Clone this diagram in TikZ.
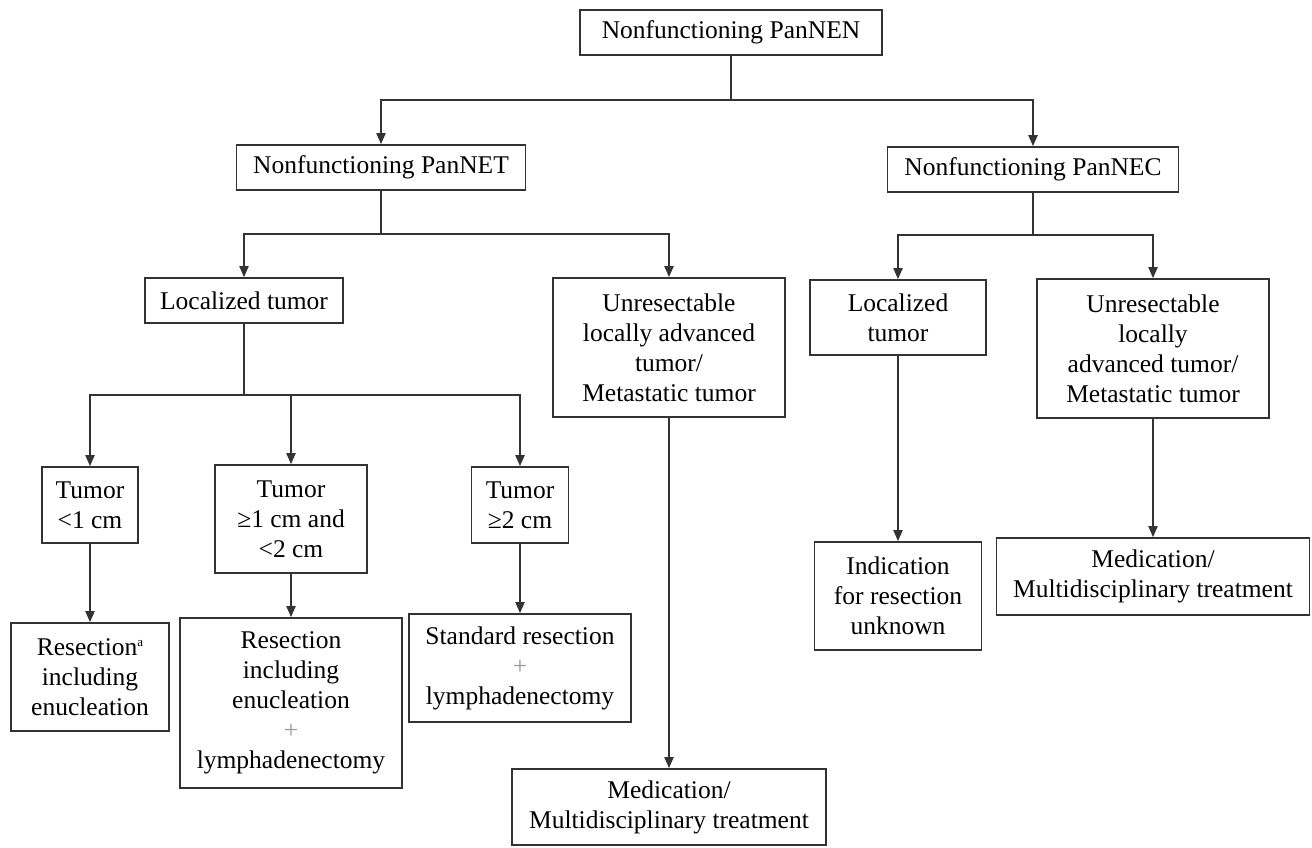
\documentclass[tikz,border=0pt]{standalone}
\usepackage{fontspec}
\setmainfont{Liberation Serif}
\usetikzlibrary{arrows.meta}

\begin{document}
\begin{tikzpicture}[x=1pt, y=-1pt, >={Stealth[length=11pt,width=9pt,inset=0pt]},
  box/.style={draw=black!80, line width=1.6pt, fill=white, align=center, inner sep=0pt,
    font=\fontsize{25.5}{30}\selectfont},
  link/.style={draw=black!80, line width=1.8pt}]
  \useasboundingbox (0,0) rectangle (1312,847);
  % top levels
  \node[box, minimum width=302pt, minimum height=45pt] (nen) at (731,32.5) {Nonfunctioning PanNEN};
  \node[box, minimum width=289pt, minimum height=45pt] (net) at (381,167.5) {Nonfunctioning PanNET};
  \node[box, minimum width=291pt, minimum height=45pt] (nec) at (1033,169.5) {Nonfunctioning PanNEC};
  % PanNET branch
  \node[box, minimum width=198pt, minimum height=45pt] (locL) at (244,300.5) {Localized tumor};
  \node[box, minimum width=232pt, minimum height=139pt] (unrL) at (669,347.5)
    {Unresectable\\locally advanced\\tumor/\\Metastatic tumor};
  \node[box, minimum width=96pt, minimum height=76pt] (t1) at (90,505) {Tumor\\<1 cm};
  \node[box, minimum width=152pt, minimum height=108pt] (t2) at (291,519) {Tumor\\≥1 cm and\\<2 cm};
  \node[box, minimum width=97pt, minimum height=76pt] (t3) at (520,505) {Tumor\\≥2 cm};
  \node[box, minimum width=158pt, minimum height=108pt] (r1) at (90,677)
    {Resection\raisebox{0.35em}{\fontsize{13}{13}\selectfont a}\\including\\enucleation};
  \node[box, minimum width=222pt, minimum height=170pt] (r2) at (291,703)
    {Resection\\including\\enucleation\\{\color{black!40}+}\\lymphadenectomy};
  \node[box, minimum width=222pt, minimum height=108pt] (r3) at (520,668)
    {Standard resection\\{\color{black!40}+}\\lymphadenectomy};
  \node[box, minimum width=314pt, minimum height=76pt] (medL) at (669,807)
    {Medication/\\Multidisciplinary treatment};
  % PanNEC branch
  \node[box, minimum width=176pt, minimum height=75pt] (locR) at (898,317.5) {Localized\\tumor};
  \node[box, minimum width=232pt, minimum height=139pt] (unrR) at (1153,348.5)
    {Unresectable\\locally\\advanced tumor/\\Metastatic tumor};
  \node[box, minimum width=167pt, minimum height=108pt] (ind) at (898,596)
    {Indication\\for resection\\unknown};
  \node[box, minimum width=313pt, minimum height=77pt] (medR) at (1153,576.5)
    {Medication/\\Multidisciplinary treatment};
  % junctions
  \coordinate (j0) at (731,100);
  \coordinate (j1) at (381,234);
  \coordinate (j2) at (1033,235);
  \coordinate (j3) at (244,395);
  % connectors
  \draw[link] (nen) -- (j0);
  \draw[link,->] (j0) -| (net);
  \draw[link,->] (j0) -| (nec);
  \draw[link] (net) -- (j1);
  \draw[link,->] (j1) -| (locL);
  \draw[link,->] (j1) -| (unrL);
  \draw[link] (nec) -- (j2);
  \draw[link,->] (j2) -| (locR);
  \draw[link,->] (j2) -| (unrR);
  \draw[link] (locL) -- (j3);
  \draw[link,->] (j3) -| (t1);
  \draw[link,->] (j3) -| (t2);
  \draw[link,->] (j3) -| (t3);
  \draw[link,->] (t1) -- (r1);
  \draw[link,->] (t2) -- (r2);
  \draw[link,->] (t3) -- (r3);
  \draw[link,->] (unrL) -- (medL);
  \draw[link,->] (locR) -- (ind);
  \draw[link,->] (unrR) -- (medR);
\end{tikzpicture}
\end{document}
